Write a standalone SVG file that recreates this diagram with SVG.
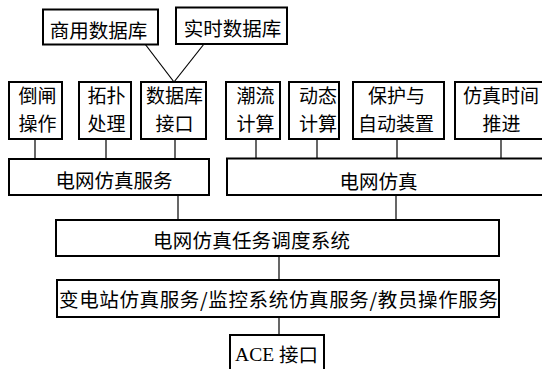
<svg xmlns="http://www.w3.org/2000/svg" width="542" height="369" viewBox="0 0 542 369">
<style>
.b{fill:#fff;stroke:#000;stroke-width:2}
.t{font-family:"Noto Sans CJK SC","Noto Sans CJK JP",sans-serif;font-size:19.5px;fill:#000;text-anchor:middle;dominant-baseline:central}
.t2{font-size:19px}
.c{stroke:#000;stroke-width:1.2;fill:none}
</style>
<rect width="542" height="369" fill="#fff"/>
<g id="connectors">
<line class="c" x1="145" y1="44" x2="174" y2="82"/>
<line class="c" x1="204" y1="44" x2="174" y2="82"/>
<line class="c" x1="35" y1="139" x2="35" y2="159"/>
<line class="c" x1="106" y1="139" x2="106" y2="159"/>
<line class="c" x1="175" y1="139" x2="175" y2="159"/>
<line class="c" x1="256" y1="139" x2="256" y2="159"/>
<line class="c" x1="317" y1="139" x2="317" y2="159"/>
<line class="c" x1="397" y1="139" x2="397" y2="159"/>
<line class="c" x1="501" y1="139" x2="501" y2="159"/>
<line class="c" x1="178" y1="195" x2="178" y2="220"/>
<line class="c" x1="396" y1="195" x2="396" y2="220"/>
<line class="c" x1="279" y1="256" x2="279" y2="280"/>
<line class="c" x1="279" y1="317" x2="279" y2="335"/>
</g>
<g id="commercial-db"><rect class="b" x="43" y="9.5" width="115" height="35"/><text class="t" x="98.5" y="29">商用数据库</text></g>
<g id="realtime-db"><rect class="b" x="176" y="7.5" width="111" height="36.5"/><text class="t" x="232.5" y="27.5">实时数据库</text></g>
<g id="switching"><rect class="b" x="9" y="82" width="53" height="57"/><text class="t t2" x="37.5" y="94">倒闸</text><text class="t t2" x="37.5" y="122">操作</text></g>
<g id="topology"><rect class="b" x="79" y="82" width="52" height="57"/><text class="t t2" x="106.5" y="94">拓扑</text><text class="t t2" x="106.5" y="122">处理</text></g>
<g id="db-interface"><rect class="b" x="141" y="82" width="65" height="57"/><text class="t t2" x="174.5" y="94">数据库</text><text class="t t2" x="174.5" y="122">接口</text></g>
<g id="power-flow"><rect class="b" x="226" y="82" width="54" height="57"/><text class="t t2" x="255.5" y="94">潮流</text><text class="t t2" x="255.5" y="122">计算</text></g>
<g id="dynamic"><rect class="b" x="289" y="82" width="50" height="57"/><text class="t t2" x="318" y="94">动态</text><text class="t t2" x="318" y="122">计算</text></g>
<g id="protection"><rect class="b" x="353" y="82" width="91" height="57"/><text class="t t2" x="396.5" y="94">保护与</text><text class="t t2" x="396" y="122">自动装置</text></g>
<g id="time-advance"><rect class="b" x="455" y="82" width="95" height="57"/><text class="t t2" x="501" y="94">仿真时间</text><text class="t t2" x="501.5" y="122">推进</text></g>
<g id="grid-sim-service"><rect class="b" x="9" y="159" width="200" height="36"/><text class="t" x="114" y="179">电网仿真服务</text></g>
<g id="grid-sim"><rect class="b" x="227" y="158.5" width="325" height="36.5"/><text class="t" x="378.5" y="180">电网仿真</text></g>
<g id="scheduler"><rect class="b" x="56" y="220" width="443" height="36"/><text class="t" x="251.5" y="239" textLength="197" lengthAdjust="spacing">电网仿真任务调度系统</text></g>
<g id="services"><rect class="b" x="57" y="280" width="442" height="37"/><text class="t" x="278.5" y="298.5" textLength="439" lengthAdjust="spacing">变电站仿真服务/监控系统仿真服务/教员操作服务</text></g>
<g id="ace"><rect class="b" x="230" y="335" width="94" height="40"/><text class="t" x="276.5" y="353.5"><tspan font-family="Liberation Serif,serif">ACE </tspan>接口</text></g>
</svg>
